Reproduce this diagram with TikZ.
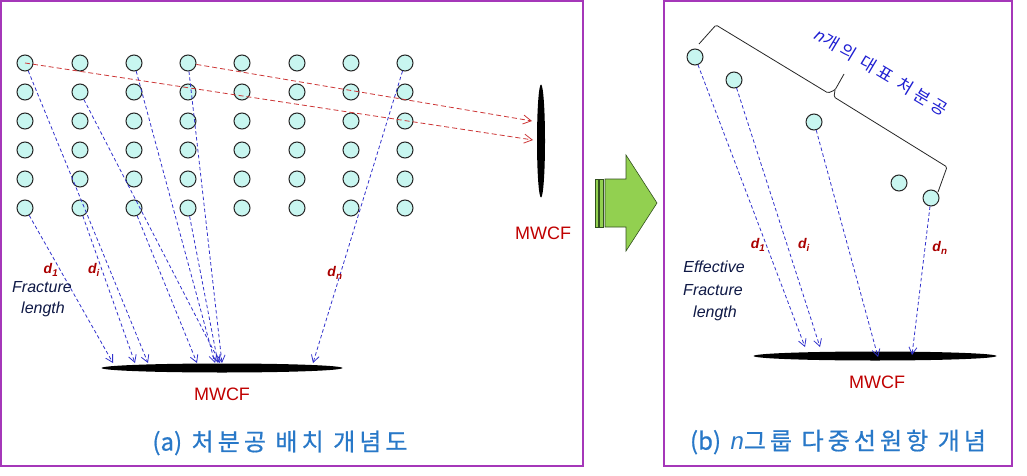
\documentclass[tikz,border=0pt]{standalone}
\usepackage{fontspec}
\setmainfont{Liberation Sans}
\newfontfamily\korn[FakeBold=0.6]{Noto Sans CJK KR}
\newfontfamily\kor[LetterSpace=17,FakeBold=0.6]{Noto Sans CJK KR}
\newfontfamily\korb[LetterSpace=24]{Noto Sans CJK KR}
\usetikzlibrary{arrows.meta,calc,shapes.geometric}
\definecolor{frame}{RGB}{165,55,185}
\definecolor{holefill}{RGB}{200,246,240}
\definecolor{bl}{RGB}{50,50,205}
\definecolor{rd}{RGB}{205,55,55}
\definecolor{mwcf}{RGB}{192,0,0}
\definecolor{dred}{RGB}{170,0,0}
\definecolor{navy}{RGB}{15,25,70}
\definecolor{capblue}{RGB}{40,120,200}
\definecolor{grn}{RGB}{146,208,80}
\definecolor{grnline}{RGB}{50,80,30}
\definecolor{textblue}{RGB}{30,30,210}
\begin{document}
\begin{tikzpicture}[x=1pt,y=-1pt,
  hole/.style={circle,draw=black!85,fill=holefill,minimum size=16pt,inner sep=0pt,line width=1pt},
  blarrow/.style={draw=bl,line width=0.8pt,dash pattern=on 3.5pt off 2.5pt,-{Straight Barb[length=7pt,width=8pt]}},
  rdarrow/.style={draw=rd,line width=0.8pt,dash pattern=on 5pt off 3pt,-{Straight Barb[length=8pt,width=9pt]}},
  dlab/.style={text=dred,font=\bfseries\itshape\fontsize{14}{14}\selectfont,inner sep=0pt},
  fl/.style={text=navy,font=\itshape\fontsize{16}{16}\selectfont,inner sep=0pt},
  mw/.style={text=mwcf,font=\fontsize{18}{18}\selectfont,inner sep=0pt},
  capt/.style={text=capblue,font=\kor\fontsize{24}{24}\selectfont,inner sep=0pt},
  panel/.style={draw=frame,line width=1.5pt},
  frac/.style={ellipse,fill=black,inner sep=0pt},
  greenpart/.style={fill=grn,draw=grnline,line width=0.6pt}
]
\useasboundingbox (0,0) rectangle (1027,476);
\fill[white] (0,0) rectangle (1027,476);
% panels
\draw[panel] (1,1) rectangle (583,466);
\draw[panel] (664,1) rectangle (1012,466);
% ---------- panel (a)
\foreach \r/\y in {1/63,2/92,3/121,4/150,5/179,6/208}
  \foreach \c/\x in {1/25,2/80,3/134,4/188,5/242,6/297,7/351,8/405}
    \node[hole] (c\r\c) at (\x,\y) {};
\node[frac,minimum width=241pt,minimum height=9pt] (fa) at (222,368) {};
\node[frac,minimum width=8pt,minimum height=113pt] (fv) at (541,141) {};
\coordinate (ta1) at (113,363);
\coordinate (ta2) at (135,363);
\coordinate (ta3) at (148,363);
\coordinate (ta4) at (197,363);
\coordinate (ta5) at (215,363);
\coordinate (ta6) at (218,363);
\coordinate (ta7) at (220,363);
\coordinate (ta8) at (222,363);
\coordinate (ta9) at (313,363);
\coordinate (tr1) at (532,121);
\coordinate (tr2) at (533,140);
\draw[blarrow] (c61) -- (ta1);
\draw[blarrow] (c11) -- (ta3);
\draw[blarrow] (c62) -- (ta2);
\draw[blarrow] (c22) -- (ta7);
\draw[blarrow] (c63) -- (ta4);
\draw[blarrow] (c13) -- (ta5);
\draw[blarrow] (c64) -- (ta6);
\draw[blarrow] (c14) -- (ta8);
\draw[blarrow] (c18) -- (ta9);
\draw[rdarrow] (c11.center) -- (tr2);
\draw[rdarrow] (c14) -- (tr1);
\node[dlab] (da1) at (51,270) {d\textsubscript{1}};
\node[dlab] (dai) at (94,270) {d\textsubscript{i}};
\node[dlab] (dan) at (335,273) {d\textsubscript{n}};
\node[fl] (fra) at (42,287) {Fracture};
\node[fl] (lena) at (43,309) {length};
\node[mw] (mwa) at (222,394) {MWCF};
\node[mw] (mwv) at (543,233) {MWCF};
\node[capt] (capa) at (280,443) {{\korn (a)} 처분공 배치 개념도};
% ---------- green arrow
\filldraw[greenpart] (595.5,179) rectangle (598,227);
\filldraw[greenpart] (599.5,179) rectangle (603.5,227);
\filldraw[greenpart] (605,179) -- (626,179) -- (626,155) -- (657,203) -- (626,251) -- (626,227) -- (605,227) -- cycle;
% ---------- panel (b)
\node[hole] (r1) at (695,57) {};
\node[hole] (r2) at (734,80) {};
\node[hole] (r3) at (814,122) {};
\node[hole] (r4) at (899,183) {};
\node[hole] (r5) at (931,198) {};
\node[frac,minimum width=243pt,minimum height=9pt] (fb) at (875,356) {};
\coordinate (tb1) at (805,347);
\coordinate (tb2) at (820,347);
\coordinate (tb3) at (878,357);
\coordinate (tb4) at (912,355);
\draw[blarrow] (r1) -- (tb1);
\draw[blarrow] (r2) -- (tb2);
\draw[blarrow] (r3) -- (tb3);
\draw[blarrow] (r5) -- (tb4);
% brace
\draw[black!85,line width=0.8pt,rounded corners=1.5pt]
  (699,44) -- (716,25) -- (828,93) -- (835,90) -- (844,74);
\draw[black!85,line width=0.8pt,rounded corners=1.5pt]
  (835,90) -- (834,97) -- (947,167) -- (938,192);
\node[rotate=-31,text=textblue,font=\korb\fontsize{17}{17}\selectfont,inner sep=0pt] (bt) at (881,72) {{\rmfamily\itshape n}개의 대표 처분공};
\node[dlab] (db1) at (758,245) {d\textsubscript{1}};
\node[dlab] (dbi) at (804,245) {d\textsubscript{i}};
\node[dlab] (dbn) at (940,248) {d\textsubscript{n}};
\node[fl] (eff) at (714,267) {Effective};
\node[fl] (frb) at (713,290) {Fracture};
\node[fl] (lenb) at (715,313) {length};
\node[mw] (mwb) at (877,382) {MWCF};
\node[capt] (capb) at (838,442) {{\korn (b)} {\rmfamily\itshape n}그룹 다중선원항 개념};
\end{tikzpicture}
\end{document}
